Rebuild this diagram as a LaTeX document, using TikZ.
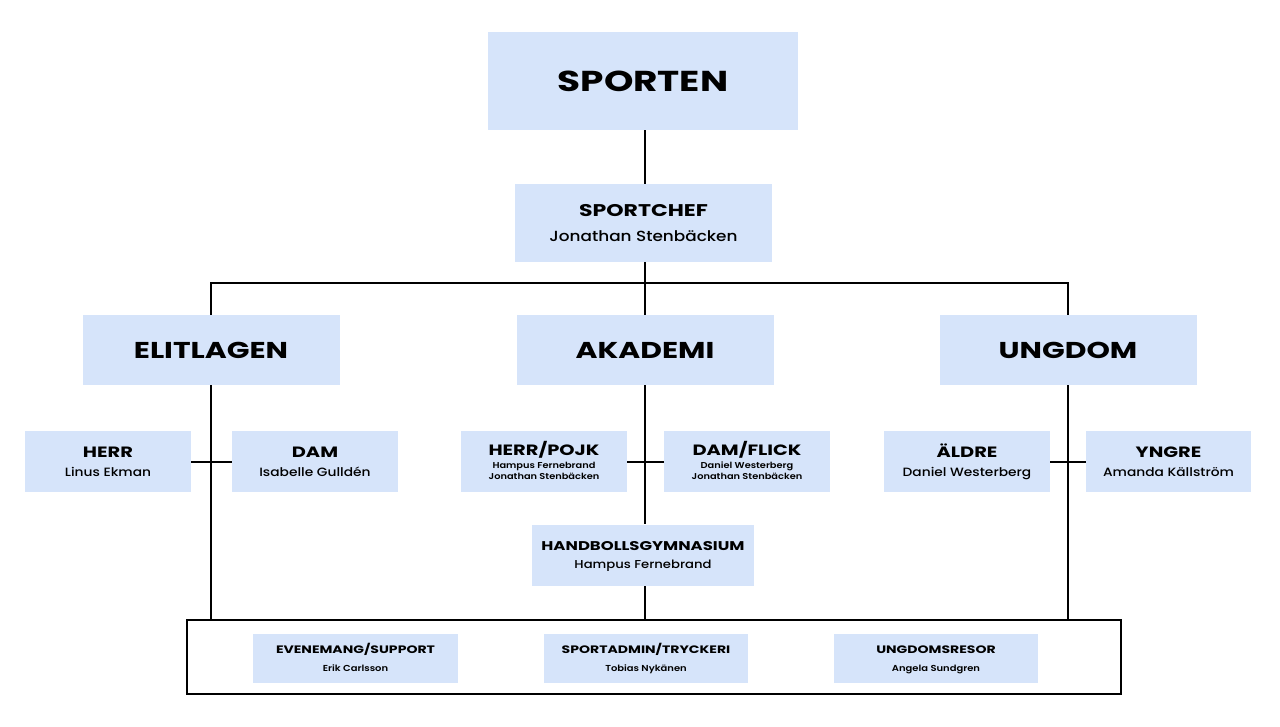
\documentclass[tikz,border=0pt]{standalone}
\usepackage{fontspec}
\setmainfont{Poppins}
\newfontfamily\widefont[FakeStretch=1.3]{Poppins}
\newfontfamily\namefont[FakeStretch=1.15, UprightFont=* Medium, BoldFont=* SemiBold]{Poppins}
\usetikzlibrary{backgrounds}
\definecolor{boxblue}{RGB}{214,228,250}
\tikzset{
  bx/.style 2 args={rectangle, fill=boxblue, draw=none, inner sep=0pt,
    minimum width=#1*0.75pt, minimum height=#2*0.75pt, align=center},
  conn/.style={draw=black, line width=1.5pt},
}
\newcommand{\ttl}[2]{{\widefont\bfseries\fontsize{#1}{#1}\selectfont #2}}
\newcommand{\ttlp}[2]{{\widefont\bfseries\fontsize{#1}{#1}\selectfont\vphantom{Ä/}#2}}
\newcommand{\nm}[2]{{\namefont\fontsize{#1}{#1}\selectfont\vphantom{Äg}#2}}
\newcommand{\nmb}[2]{{\namefont\bfseries\fontsize{#1}{#1}\selectfont\vphantom{Äg}#2}}
\begin{document}
\begin{tikzpicture}[x=0.75pt,y=-0.75pt]
\useasboundingbox (0,0) rectangle (1280,727);
% top
\node[bx={310}{98}] (sporten) at (643,81) {\ttl{21.6}{SPORTEN}};
\node[bx={257}{78}] (sportchef) at (643.5,223) {\ttlp{12.7}{SPORTCHEF}\\[6pt]\nm{11}{Jonathan Stenbäcken}};
% level 2
\node[bx={257}{70}] (elit) at (211,350) {\ttl{17.2}{ELITLAGEN}};
\node[bx={257}{70}] (akad) at (645,350) {\ttl{17.2}{AKADEMI}};
\node[bx={257}{70}] (ungd) at (1068,350) {\ttl{17.2}{UNGDOM}};
% level 3
\node[bx={166}{61}] (herr) at (108,461.5) {\ttlp{11.2}{HERR}\\[2pt]\nm{9}{Linus Ekman}};
\node[bx={166}{61}] (dam) at (315,461.5) {\ttlp{11.2}{DAM}\\[2pt]\nm{9}{Isabelle Gulldén}};
\node[bx={166}{61}] (herrpojk) at (544,461.5) {\ttlp{11.2}{HERR/POJK}\\[-2pt]\nmb{6.4}{Hampus Fernebrand}\\[-4pt]\nmb{6.4}{Jonathan Stenbäcken}};
\node[bx={166}{61}] (damflick) at (747,461.5) {\ttlp{11.2}{DAM/FLICK}\\[-2pt]\nmb{6.4}{Daniel Westerberg}\\[-4pt]\nmb{6.4}{Jonathan Stenbäcken}};
\node[bx={166}{61}] (aldre) at (967,461.5) {\ttlp{11.2}{ÄLDRE}\\[2pt]\nm{9}{Daniel Westerberg}};
\node[bx={165}{61}] (yngre) at (1168.5,461.5) {\ttlp{11.2}{YNGRE}\\[2pt]\nm{9}{Amanda Källström}};
\node[bx={222}{61}] (hgym) at (643,555) {\ttlp{9.5}{HANDBOLLSGYMNASIUM}\\[2pt]\nm{8.6}{Hampus Fernebrand}};
% bottom container
\node[rectangle, draw=black, line width=1.5pt, inner sep=0pt, minimum width=934*0.75pt, minimum height=74*0.75pt] (cont) at (654,657) {};
\node[bx={205}{49}] (even) at (355.5,658.5) {\ttlp{8.1}{EVENEMANG/SUPPORT}\\[1.5pt]\nmb{6.5}{Erik Carlsson}};
\node[bx={204}{49}] (sadm) at (646,658.5) {\ttlp{8.1}{SPORTADMIN/TRYCKERI}\\[1.5pt]\nmb{6.5}{Tobias Nykänen}};
\node[bx={204}{49}] (ungr) at (936,658.5) {\ttlp{8.1}{UNGDOMSRESOR}\\[1.5pt]\nmb{6.5}{Angela Sundgren}};
% connectors
\coordinate (bus) at (645,283);
\begin{scope}[on background layer]
\fill[white] (0,0) rectangle (1280,727);
\draw[conn] (sporten.south -| bus) -- (sportchef.north -| bus);
\draw[conn] (sportchef.south -| bus) -- (akad.north);
\draw[conn] (elit.north) -- (elit.north |- bus) -- (ungd.north |- bus) -- (ungd.north);
\draw[conn] (elit.south) -- (elit.south |- cont.north);
\draw[conn] (akad.south) -- (hgym.north -| akad.south);
\draw[conn] (hgym.south -| akad.south) -- (cont.north -| akad.south);
\draw[conn] (ungd.south) -- (ungd.south |- cont.north);
\draw[conn] (herr.east) -- (dam.west);
\draw[conn] (herrpojk.east) -- (damflick.west);
\draw[conn] (aldre.east) -- (yngre.west);
\end{scope}
\end{tikzpicture}
\end{document}
